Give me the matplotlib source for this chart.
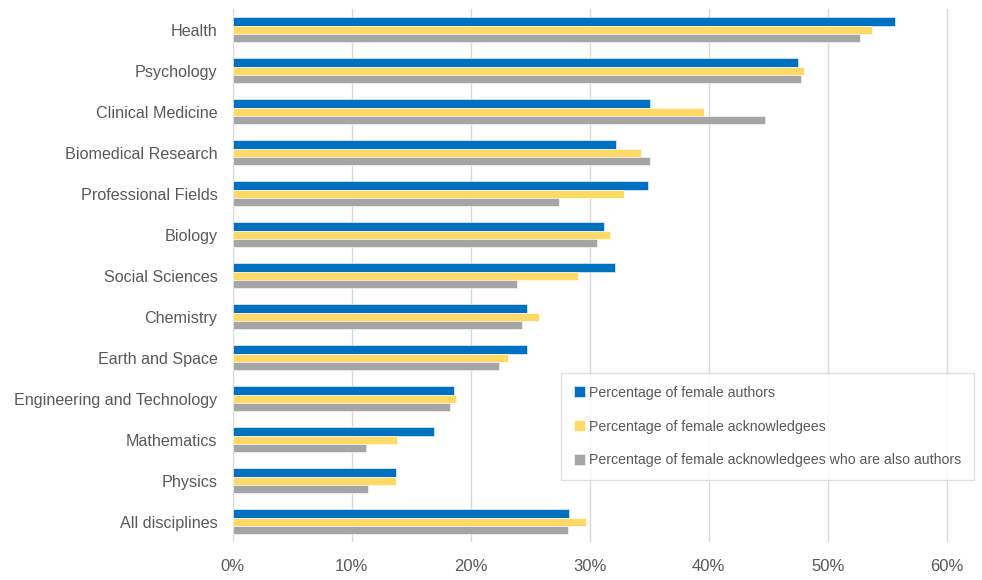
import numpy as np
import matplotlib
matplotlib.use("Agg")
import matplotlib.pyplot as plt
from matplotlib.ticker import FuncFormatter

categories = ["Health", "Psychology", "Clinical Medicine", "Biomedical Research",
              "Professional Fields", "Biology", "Social Sciences", "Chemistry",
              "Earth and Space", "Engineering and Technology", "Mathematics",
              "Physics", "All disciplines"]
authors = [55.7, 47.5, 35.1, 32.2, 34.9, 31.2, 32.1, 24.7, 24.7, 18.6, 16.9, 13.7, 28.3]
acknowledgees = [53.7, 48.0, 39.6, 34.3, 32.9, 31.7, 29.0, 25.7, 23.1, 18.8, 13.8, 13.7, 29.7]
ack_authors = [52.7, 47.8, 44.7, 35.1, 27.4, 30.6, 23.9, 24.3, 22.4, 18.3, 11.2, 11.4, 28.2]
series_labels = ["Percentage of female authors",
                 "Percentage of female acknowledgees",
                 "Percentage of female acknowledgees who are also authors"]
xticks = [0, 10, 20, 30, 40, 50, 60]

plt.rcParams["font.family"] = ["Liberation Sans", "DejaVu Sans"]
TXT = "#595959"

fig = plt.figure(figsize=(9.82, 5.8), dpi=100)
# axes spans 0..61 so the 60% gridline is drawn fully
ax = fig.add_axes([0.237, 0.065, 0.727 * 61 / 60, 0.919])

y = np.arange(len(categories))
h = 0.2
colors = ["#0070C0", "#FFD966", "#A5A5A5"]
for i, (vals, col, lab) in enumerate(zip([authors, acknowledgees, ack_authors], colors, series_labels)):
    ax.barh(y + (i - 1) * h, vals, height=h, color=col, label=lab,
            edgecolor="white", linewidth=0.4, zorder=3)

ax.set_ylim(len(categories) - 0.5, -0.5)
ax.set_yticks(y)
ax.set_yticklabels(categories, fontsize=11.6, color=TXT)
ax.set_xlim(0, 61)
ax.set_xticks(xticks)
ax.xaxis.set_major_formatter(FuncFormatter(lambda v, p: "%d%%" % v))
ax.tick_params(axis="x", labelsize=12, labelcolor=TXT, length=0, pad=12)
ax.tick_params(axis="y", length=0, pad=11)
ax.grid(axis="x", color="#D9D9D9", linewidth=1, zorder=0)
for s in ax.spines.values():
    s.set_visible(False)

leg = fig.legend(loc="upper left", bbox_to_anchor=(561 / 982, 1 - 373 / 580),
                 frameon=True, fancybox=False, fontsize=10.2, labelcolor=TXT,
                 handlelength=0.8, handleheight=0.8, handletextpad=0.25,
                 labelspacing=1.4, borderpad=0.9, borderaxespad=0)
leg.get_frame().set_edgecolor("#D9D9D9")
leg.get_frame().set_linewidth(1)

fig.savefig("out.png", dpi=100)
